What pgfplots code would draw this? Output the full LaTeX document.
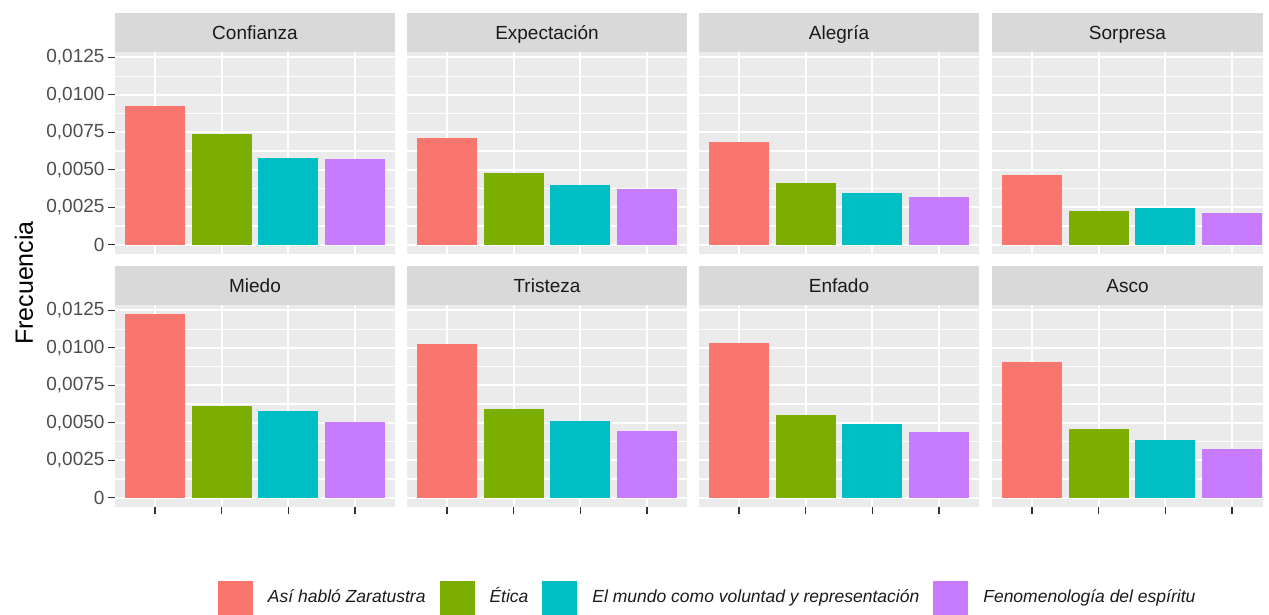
\documentclass[border=0pt]{standalone}
\usepackage{fontspec}
\setmainfont{Liberation Sans}
\usepackage{pgfplots}
\pgfplotsset{compat=1.18}
\definecolor{cA}{HTML}{F8766D}
\definecolor{cB}{HTML}{7CAE00}
\definecolor{cC}{HTML}{00BFC4}
\definecolor{cD}{HTML}{C77CFF}
\definecolor{panelbg}{HTML}{EBEBEB}
\definecolor{stripbg}{HTML}{D9D9D9}
\definecolor{ticktxt}{HTML}{4D4D4D}
\definecolor{tickln}{HTML}{333333}
\definecolor{striptxt}{HTML}{1A1A1A}
\pgfplotsset{
  panel/.style={
    scale only axis, width=280pt, height=202pt,
    xmin=0.4, xmax=4.6, ymin=-0.00062, ymax=0.01286,
    axis background/.style={fill=panelbg},
    axis line style={draw=none},
    xtick={1,2,3,4}, xticklabels={},
    ytick={0,0.0025,0.005,0.0075,0.01,0.0125},
    minor ytick={0.00125,0.00375,0.00625,0.00875,0.01125},
    yticklabels={},
    grid=both,
    major grid style={white, line width=2.2pt, draw opacity=1},
    minor grid style={white, line width=1.1pt, draw opacity=1},
    tick pos=left,
    tick align=outside, major tick length=7pt, minor tick length=0pt,
    tick style={tickln, line width=1.1pt},
    ticklabel style={font=\fontsize{19}{22}\selectfont, text=ticktxt},
    scaled y ticks=false,
    clip=false,
  },
  leftcol/.style={yticklabels={0,{0,0025},{0,0050},{0,0075},{0,0100},{0,0125}}},
  notick y/.style={ytick style={draw opacity=0}},
  notick x/.style={xtick style={draw opacity=0}},
  sqleg/.style={legend image code/.code={\fill[##1] (0pt,-17.5pt) rectangle (35pt,17.5pt);}},
}
\newcommand\bars[4]{%
  \addplot[ybar,bar width=0.9,bar shift=0pt,fill=cA,draw=none] coordinates {(1,#1)};
  \addplot[ybar,bar width=0.9,bar shift=0pt,fill=cB,draw=none] coordinates {(2,#2)};
  \addplot[ybar,bar width=0.9,bar shift=0pt,fill=cC,draw=none] coordinates {(3,#3)};
  \addplot[ybar,bar width=0.9,bar shift=0pt,fill=cD,draw=none] coordinates {(4,#4)};
}
\newcommand\strip[1]{%
  \fill[stripbg] (rel axis cs:0,1) rectangle (rel axis cs:1,1.1931);
  \node[font=\fontsize{19}{22}\selectfont, text=striptxt, text height=13.7pt, text depth=4pt, inner sep=0pt] at (rel axis cs:0.5,1.0866) {#1};
}
\begin{document}
\begin{tikzpicture}
\path[use as bounding box] (0,0) rectangle (1269pt,615pt);
% top row
\begin{axis}[panel, leftcol, notick x, at={(115pt,361pt)}]
  \bars{0.00923}{0.00741}{0.00580}{0.00571}
  \strip{Confianza}
\end{axis}
\begin{axis}[panel, notick x, notick y, at={(407pt,361pt)}]
  \bars{0.00710}{0.00480}{0.00398}{0.00371}
  \strip{Expectación}
\end{axis}
\begin{axis}[panel, notick x, notick y, at={(699pt,361pt)}]
  \bars{0.00687}{0.00415}{0.00345}{0.00318}
  \strip{Alegría}
\end{axis}
\begin{axis}[panel, notick x, notick y, at={(992pt,361pt)}, width=271pt, xmax=4.465]
  \bars{0.00462}{0.00228}{0.00244}{0.00210}
  \strip{Sorpresa}
\end{axis}
% bottom row
\begin{axis}[panel, leftcol, at={(115pt,108pt)}]
  \bars{0.01225}{0.00610}{0.00576}{0.00507}
  \strip{Miedo}
\end{axis}
\begin{axis}[panel, notick y, at={(407pt,108pt)}]
  \bars{0.01025}{0.00590}{0.00509}{0.00446}
  \strip{Tristeza}
\end{axis}
\begin{axis}[panel, notick y, at={(699pt,108pt)}]
  \bars{0.01034}{0.00549}{0.00491}{0.00440}
  \strip{Enfado}
\end{axis}
\begin{axis}[panel, notick y, at={(992pt,108pt)}, width=271pt, xmax=4.465]
  \bars{0.00908}{0.00460}{0.00382}{0.00328}
  \strip{Asco}
\end{axis}
% y-axis title
\node[rotate=90, font=\fontsize{25}{30}\selectfont] at (24pt,332pt) {Frecuencia};
% legend
\begin{axis}[at={(0pt,0pt)}, anchor=south west, scale only axis, width=1269pt, height=615pt,
  hide axis, xmin=0, xmax=1, ymin=0, ymax=1,
  legend columns=4, legend cell align=left,
  legend style={at={(0.17179,0.02764)}, anchor=west, draw=none, fill=none,
    inner sep=0pt, outer sep=0pt, nodes={inner sep=0pt, text height=12.6pt, text depth=3.7pt},
    font=\fontsize{17.5}{21}\selectfont\itshape, text=striptxt,
    /tikz/every even column/.append style={column sep=14pt},
    /tikz/every odd column/.append style={column sep=15pt}}]
  \addlegendimage{sqleg, fill=cA, draw=none}
  \addlegendentry{Así habló Zaratustra}
  \addlegendimage{sqleg, fill=cB, draw=none}
  \addlegendentry{Ética}
  \addlegendimage{sqleg, fill=cC, draw=none}
  \addlegendentry{El mundo como voluntad y representación}
  \addlegendimage{sqleg, fill=cD, draw=none}
  \addlegendentry{Fenomenología del espíritu}
\end{axis}
\end{tikzpicture}
\end{document}
